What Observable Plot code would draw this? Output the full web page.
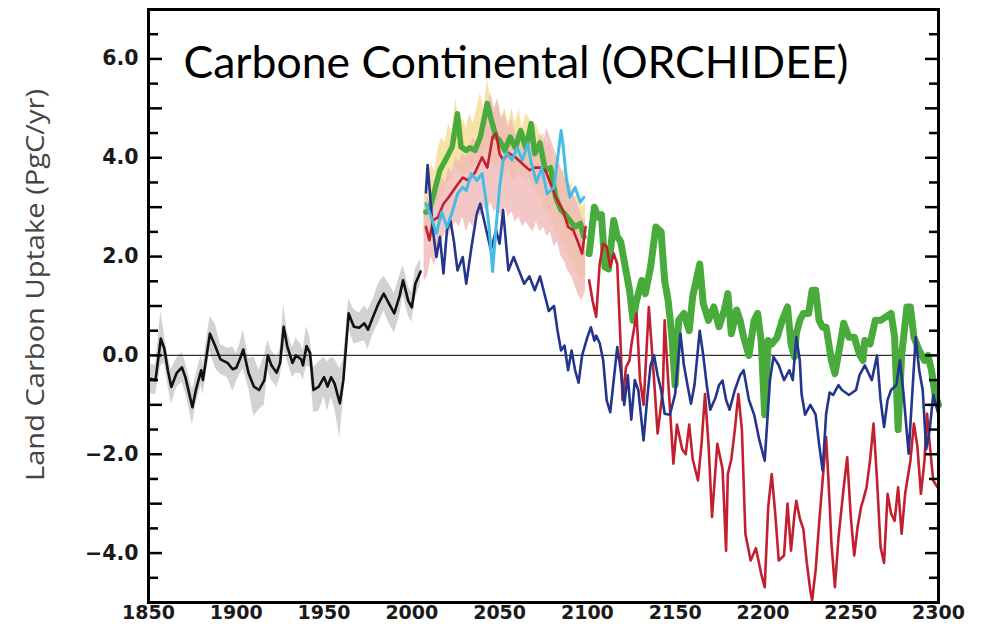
<!DOCTYPE html>
<html><head><meta charset="utf-8">
<script src="https://cdn.jsdelivr.net/npm/d3@7"></script>
<script src="https://cdn.jsdelivr.net/npm/@observablehq/plot@0.6"></script>
<style>body{margin:0;background:#fff}#chart svg{display:block}</style>
</head><body><div id="chart"></div>
<script>
// ---------- data (year, value) ----------
const titleText = "Carbone Continental (ORCHIDEE)";
const yLabelText = "Land Carbon Uptake (PgC/yr)";
const xTicks = [1850, 1900, 1950, 2000, 2050, 2100, 2150, 2200, 2250, 2300];
const yTicks = [-4, -2, 0, 2, 4, 6];
const yTickLabels = ["\u22124.0", "\u22122.0", "0.0", "2.0", "4.0", "6.0"];
const yIntTicks = [-4, -3, -2, -1, 0, 1, 2, 3, 4, 5, 6];
const yHalfTicks = [-4.5, -3.5, -2.5, -1.5, -0.5, 0.5, 1.5, 2.5, 3.5, 4.5, 5.5, 6.5];

// historical: [year, value, half-spread of grey band]
const hist = [
[1850,-0.5,0.3],[1851,-0.47,0.3],[1854,-0.5,0.3],[1857,0.34,0.55],[1859,0.14,0.3],[1861,-0.3,0.3],[1863,-0.64,0.35],[1866,-0.36,0.3],[1869,-0.24,0.3],[1871,-0.44,0.3],[1875,-1.05,0.35],[1877,-0.7,0.3],[1880,-0.3,0.3],[1881,-0.5,0.3],[1885,0.44,0.35],[1888,0.19,0.45],[1891,-0.08,0.3],[1895,-0.15,0.3],[1898,-0.28,0.45],[1900,-0.25,0.3],[1902,-0.08,0.3],[1904,0.12,0.4],[1907,-0.36,0.3],[1910,-0.63,0.6],[1913,-0.7,0.4],[1916,-0.5,0.5],[1918,0.0,0.3],[1920,-0.2,0.3],[1923,-0.35,0.3],[1925,-0.15,0.3],[1927,0.58,0.45],[1929,0.19,0.3],[1932,-0.15,0.3],[1934,0.0,0.35],[1937,-0.08,0.3],[1938,-0.2,0.3],[1940,0.19,0.4],[1942,0.05,0.3],[1944,-0.7,0.45],[1947,-0.63,0.5],[1950,-0.44,0.4],[1952,-0.63,0.5],[1954,-0.44,0.4],[1956,-0.57,0.5],[1959,-0.97,0.7],[1961,-0.5,0.4],[1964,0.85,0.3],[1967,0.58,0.35],[1970,0.56,0.3],[1973,0.65,0.35],[1975,0.52,0.4],[1978,0.79,0.35],[1981,1.05,0.4],[1984,1.25,0.35],[1987,1.05,0.4],[1990,0.85,0.4],[1993,1.2,0.4],[1995,1.52,0.3],[1998,1.1,0.3],[2000,0.97,0.3],[2002,1.45,0.3],[2005,1.7,0.25]
];

// model spread bands 2006-2100: [year, low, high]
const tanBand = [
[2007,2.4,3.2],[2009,2.5,3.5],[2011,2.7,3.9],[2013,2.9,3.7],[2015,3.1,4.2],[2017,3.2,4.4],[2019,3.4,4.3],[2021,3.5,4.7],[2023,3.6,4.5],[2025,3.8,5.2],[2027,3.7,4.7],[2029,3.6,4.8],[2031,3.7,4.6],[2033,3.6,4.9],[2035,3.8,4.7],[2037,3.9,5.0],[2039,3.9,5.3],[2041,4.1,5.0],[2043,4.2,5.6],[2045,4.0,5.2],[2047,3.8,4.9],[2049,3.8,5.1],[2051,3.7,4.8],[2053,3.6,5.0],[2055,3.8,4.7],[2057,3.6,5.0],[2059,3.5,4.7],[2061,3.7,5.0],[2063,3.6,4.6],[2065,3.5,4.9],[2067,3.6,4.8],[2069,3.4,4.6],[2071,3.3,4.7],[2073,3.2,4.4],[2075,3.0,4.5],[2077,2.9,4.2],[2079,2.8,4.3],[2081,2.6,3.9],[2083,2.4,4.0],[2085,2.3,3.7],[2087,2.2,3.8],[2089,2.0,3.4],[2091,1.9,3.5],[2093,1.8,3.2],[2095,1.6,3.3],[2097,1.5,3.0],[2099,1.6,3.1]
];
const pinkBand = [
[2007,1.5,3.0],[2009,1.6,3.2],[2011,2.0,3.1],[2013,1.8,3.4],[2015,2.2,3.3],[2017,2.3,3.6],[2019,2.5,3.5],[2021,2.4,3.8],[2023,2.6,3.7],[2025,2.7,4.0],[2027,2.6,3.9],[2029,2.8,4.1],[2031,2.5,4.0],[2033,2.7,4.2],[2035,2.6,4.4],[2037,2.9,4.3],[2039,2.8,4.6],[2041,3.0,4.5],[2043,2.9,5.0],[2045,3.1,5.3],[2047,2.9,5.0],[2049,3.0,5.2],[2051,2.8,4.8],[2053,3.0,4.9],[2055,2.8,4.6],[2057,2.9,4.8],[2059,2.7,4.5],[2061,2.8,4.4],[2063,2.6,4.6],[2065,2.7,4.3],[2067,2.6,4.5],[2069,2.5,4.3],[2071,2.7,4.2],[2073,2.5,4.5],[2075,2.6,4.3],[2077,2.4,4.6],[2079,2.5,4.4],[2081,2.2,4.2],[2083,2.3,4.0],[2085,2.0,3.8],[2087,1.9,3.6],[2089,1.7,3.5],[2091,1.6,3.3],[2093,1.4,3.2],[2095,1.2,3.0],[2097,1.1,2.8],[2099,1.3,2.7]
];

const greenA = [[2008,2.9],[2010,2.94],[2012,3.2],[2016,3.75],[2020,4.01],[2023,4.22],[2026,4.89],[2028,4.22],[2031,4.15],[2033,4.2],[2036,4.15],[2039,4.42],[2041,4.76],[2043,5.1],[2045,4.8],[2048,4.42],[2050,4.35],[2053,4.15],[2056,4.42],[2059,4.2],[2062,4.55],[2065,4.2],[2068,4.69],[2070,4.08],[2073,4.3],[2076,3.75],[2079,3.8],[2082,3.2],[2085,2.94],[2087,2.87],[2090,2.73],[2093,2.6],[2096,2.67],[2098,2.4]];
const greenB = [[2101,2.06],[2104,3.0],[2106,2.8],[2108,2.85],[2110,1.79],[2112,1.75],[2115,2.73],[2117,2.4],[2119,2.3],[2121,1.9],[2124,1.32],[2126,0.71],[2128,1.11],[2131,1.52],[2133,1.25],[2136,1.79],[2139,2.6],[2142,2.5],[2144,1.52],[2146,1.11],[2148,0.44],[2150,-0.6],[2152,0.71],[2155,0.85],[2158,0.5],[2160,1.2],[2162,1.52],[2164,1.85],[2166,1.05],[2169,0.71],[2172,0.98],[2175,0.58],[2178,0.92],[2180,1.25],[2182,0.44],[2185,0.92],[2187,0.71],[2189,0.37],[2192,0.0],[2195,0.71],[2197,0.85],[2199,0.3],[2201,-1.2],[2203,0.3],[2205,0.23],[2208,0.36],[2211,0.71],[2214,0.98],[2216,0.23],[2218,-0.03],[2219,0.44],[2221,0.71],[2223,0.85],[2226,0.85],[2228,1.32],[2230,1.32],[2232,0.71],[2234,0.57],[2236,0.57],[2239,-0.1],[2241,-0.37],[2243,0.02],[2246,0.65],[2249,0.37],[2252,0.37],[2255,0.02],[2257,-0.1],[2258,0.3],[2261,0.23],[2264,0.71],[2267,0.71],[2270,0.78],[2273,0.85],[2275,0.37],[2277,-1.5],[2279,0.0],[2282,0.98],[2284,0.98],[2286,0.37],[2289,0.1],[2292,-0.1],[2294,0.0],[2296,-0.3],[2298,-0.78],[2300,-1.0]];

const redA = [[2008,2.6],[2010,2.33],[2012,2.73],[2015,2.8],[2018,3.07],[2021,3.2],[2025,3.41],[2029,3.6],[2032,3.54],[2036,3.7],[2040,4.01],[2043,3.8],[2046,4.42],[2048,4.49],[2050,4.08],[2052,3.95],[2055,4.1],[2059,4.01],[2063,3.88],[2067,3.75],[2070,3.8],[2073,3.8],[2076,3.75],[2079,3.48],[2082,3.2],[2086,2.94],[2089,2.6],[2092,2.53],[2095,2.26],[2097,2.06],[2099,2.6]];
const redB = [[2101,1.52],[2103,1.1],[2105,0.78],[2107,1.85],[2109,2.26],[2111,2.2],[2113,1.79],[2115,2.06],[2117,1.85],[2119,0.17],[2120,-0.9],[2122,-0.24],[2124,-0.1],[2125,0.2],[2128,0.85],[2130,-0.5],[2132,-1.0],[2135,0.98],[2138,-0.5],[2140,-1.58],[2143,-0.7],[2144,0.71],[2146,-0.5],[2149,-2.19],[2151,-1.4],[2154,-1.9],[2156,-2.0],[2158,-1.4],[2160,-2.1],[2163,-2.53],[2165,-1.8],[2167,-0.78],[2169,-1.8],[2171,-3.27],[2174,-1.79],[2177,-2.3],[2179,-3.95],[2180,-2.4],[2182,-2.1],[2184,-1.5],[2186,-0.78],[2188,-1.5],[2190,-3.61],[2193,-4.15],[2196,-3.9],[2199,-4.42],[2201,-4.69],[2203,-3.07],[2205,-2.4],[2207,-3.2],[2209,-4.15],[2212,-4.05],[2214,-3.0],[2216,-3.95],[2218,-3.2],[2219,-2.94],[2221,-3.3],[2223,-3.51],[2225,-4.2],[2227,-4.76],[2228,-4.96],[2230,-4.35],[2232,-3.4],[2234,-2.53],[2236,-1.65],[2238,-3.0],[2239,-3.8],[2241,-4.69],[2243,-3.7],[2246,-2.67],[2248,-2.06],[2250,-3.25],[2252,-4.05],[2254,-3.45],[2256,-3.05],[2257,-2.94],[2259,-2.67],[2261,-2.13],[2263,-1.38],[2265,-2.53],[2267,-3.88],[2269,-4.2],[2271,-2.8],[2273,-3.2],[2275,-3.35],[2277,-2.67],[2279,-3.61],[2281,-2.8],[2284,-2.13],[2286,-1.38],[2288,-1.85],[2290,-2.8],[2292,-2.13],[2293.5,-1.18],[2295,-1.8],[2297,-2.53],[2300,-2.7]];

const cyan = [[2008,3.07],[2011,2.8],[2014,2.47],[2017,2.9],[2020,2.6],[2023,2.9],[2026,3.27],[2029,3.4],[2031,3.34],[2034,3.68],[2037,3.54],[2040,3.68],[2042,3.2],[2044,2.6],[2046,1.7],[2048,2.6],[2050,3.4],[2052,3.95],[2054,4.1],[2057,3.95],[2060,4.2],[2063,3.95],[2066,4.28],[2068,3.9],[2071,3.5],[2074,3.8],[2077,3.27],[2081,3.4],[2085,4.55],[2086,4.3],[2088,3.6],[2090,3.2],[2093,3.4],[2096,3.1],[2098,3.2]];

const navy = [[2008,3.3],[2009,3.85],[2010.5,3.2],[2012,2.53],[2014,1.99],[2016,2.4],[2018,1.66],[2020,2.53],[2022,2.73],[2024,2.3],[2026,1.72],[2029,1.99],[2031,1.45],[2034,2.2],[2037,2.87],[2039,3.07],[2042,2.6],[2045,2.13],[2048,2.53],[2050,2.26],[2052,2.94],[2055,1.72],[2058,1.99],[2061,1.72],[2064,1.45],[2067,1.6],[2070,1.32],[2073,1.6],[2075,1.32],[2078,0.9],[2081,1.0],[2083,0.5],[2085,0.1],[2087,0.2],[2089,-0.3],[2091,0.1],[2093,-0.3],[2095,-0.55],[2097,0.0],[2100,0.37],[2102,0.57],[2104,0.3],[2105,0.4],[2107,0.25],[2109,-0.1],[2111,-0.91],[2113,-1.15],[2115,-0.5],[2117,0.17],[2119,-0.3],[2121,-1.0],[2123,-0.4],[2125,-1.3],[2127,-0.5],[2129,-0.7],[2132,-1.72],[2134,-0.9],[2136,-0.2],[2138,0.0],[2140,-0.4],[2142,-0.7],[2144,-1.18],[2147,-1.2],[2150,-0.78],[2153,0.44],[2155,-0.2],[2157,-0.6],[2159,-0.98],[2161,-0.6],[2164,0.5],[2166,0.0],[2168,-0.6],[2170,-1.1],[2173,-0.85],[2175,-0.6],[2177,-0.51],[2179,-0.9],[2181,-1.1],[2184,-0.7],[2187,-0.4],[2189,-0.3],[2192,-0.9],[2195,-1.2],[2198,-1.72],[2201,-2.13],[2204,-0.5],[2206,-0.03],[2209,-0.2],[2212,-0.5],[2215,-0.3],[2217,-0.5],[2219,0.37],[2221,-0.1],[2222,-0.78],[2224,-1.2],[2227,-1.0],[2230,-1.2],[2232,-1.8],[2234,-2.33],[2236,-1.18],[2238,-0.75],[2240,-0.8],[2243,-0.6],[2245,-0.7],[2249,-0.8],[2253,-0.7],[2255,-0.4],[2258,-0.2],[2262,-0.5],[2265,0.0],[2267,-0.9],[2269,-1.45],[2271,-0.9],[2273,-0.7],[2276,-0.6],[2278,-0.1],[2280,-0.75],[2283,-1.99],[2287,0.37],[2289,-0.3],[2291,-0.7],[2293,-1.9],[2295,-1.5],[2297,-0.8],[2300,-1.2]];

// ---------- chart ----------
const X = d => d[0], Y = d => d[1];
const tickFont = "'DejaVu Sans', Verdana, sans-serif";
const tickStyle = {fontWeight: "bold", fontFamily: tickFont, fill: "#1a1a1a"};
const chart = Plot.plot({
  width: 981, height: 635,
  marginLeft: 148, marginRight: 43, marginTop: 9, marginBottom: 33,
  x: {domain: [1850, 2300]},
  y: {domain: [-5, 7]},
  style: {background: "#fff", overflow: "visible"},
  marks: [
    Plot.areaY(hist, {x: X, y1: d => d[1] - d[2], y2: d => d[1] + d[2], fill: "#d2d2d2"}),
    Plot.areaY(tanBand, {x: X, y1: d => d[1], y2: d => d[2], fill: "#f7e3aa"}),
    Plot.areaY(pinkBand, {x: X, y1: d => d[1], y2: d => d[2], fill: "#efb9b6", fillOpacity: 0.8}),
    Plot.ruleY([0], {stroke: "#333", strokeWidth: 1.2}),
    Plot.line(hist, {x: X, y: Y, stroke: "#111", strokeWidth: 2.6}),
    Plot.line(greenA, {x: X, y: Y, stroke: "#4aab3d", strokeWidth: 5.5}),
    Plot.line(greenB, {x: X, y: Y, stroke: "#4aab3d", strokeWidth: 7}),
    Plot.line(redA, {x: X, y: Y, stroke: "#c2202f", strokeWidth: 2.6}),
    Plot.line(redB, {x: X, y: Y, stroke: "#c2202f", strokeWidth: 2.6}),
    Plot.line(navy, {x: X, y: Y, stroke: "#24358c", strokeWidth: 2.6}),
    Plot.line(cyan, {x: X, y: Y, stroke: "#45bde2", strokeWidth: 3}),
    Plot.frame({stroke: "#000", strokeWidth: 3}),
    // inward ticks, left and right
    Plot.axisY(yIntTicks, {anchor: "left", tickSize: -14, tickFormat: () => "", label: null, strokeWidth: 2.5, stroke: "#000"}),
    Plot.axisY(yHalfTicks, {anchor: "left", tickSize: -10, tickFormat: () => "", label: null, strokeWidth: 2.5, stroke: "#000"}),
    Plot.axisY(yIntTicks, {anchor: "right", tickSize: -14, tickFormat: () => "", label: null, strokeWidth: 2.5, stroke: "#000"}),
    Plot.axisY(yHalfTicks, {anchor: "right", tickSize: -10, tickFormat: () => "", label: null, strokeWidth: 2.5, stroke: "#000"}),
    // tick labels
    Plot.axisY(yTicks, {anchor: "left", tickSize: 0, tickPadding: 10, tickFormat: (d, i) => yTickLabels[i], label: null, fontSize: 20.5, ...tickStyle}),
    Plot.axisX(xTicks, {anchor: "bottom", tickSize: 0, tickPadding: 3, tickFormat: d => String(d), label: null, fontSize: 19, ...tickStyle}),
    Plot.text([titleText], {frameAnchor: "top-left", dx: 35, dy: 54, text: d => d, textAnchor: "start", lineAnchor: "middle",
      fontSize: 44, fontFamily: "Lato, 'Open Sans', sans-serif", fill: "#000"}),
    Plot.text([yLabelText], {frameAnchor: "left", dx: -113, dy: -21, rotate: -90, text: d => d, textAnchor: "middle", lineAnchor: "middle",
      fontSize: 25.5, fontFamily: "'Open Sans', Lato, sans-serif", fill: "#444"})
  ]
});
// stretch the two free texts to the reference widths
d3.select(chart).selectAll("text").each(function () {
  if (this.textContent === titleText) d3.select(this).attr("textLength", 665).attr("lengthAdjust", "spacingAndGlyphs");
  if (this.textContent === yLabelText) d3.select(this).attr("textLength", 392).attr("lengthAdjust", "spacingAndGlyphs");
});
document.getElementById("chart").append(chart);
</script>
</body></html>
